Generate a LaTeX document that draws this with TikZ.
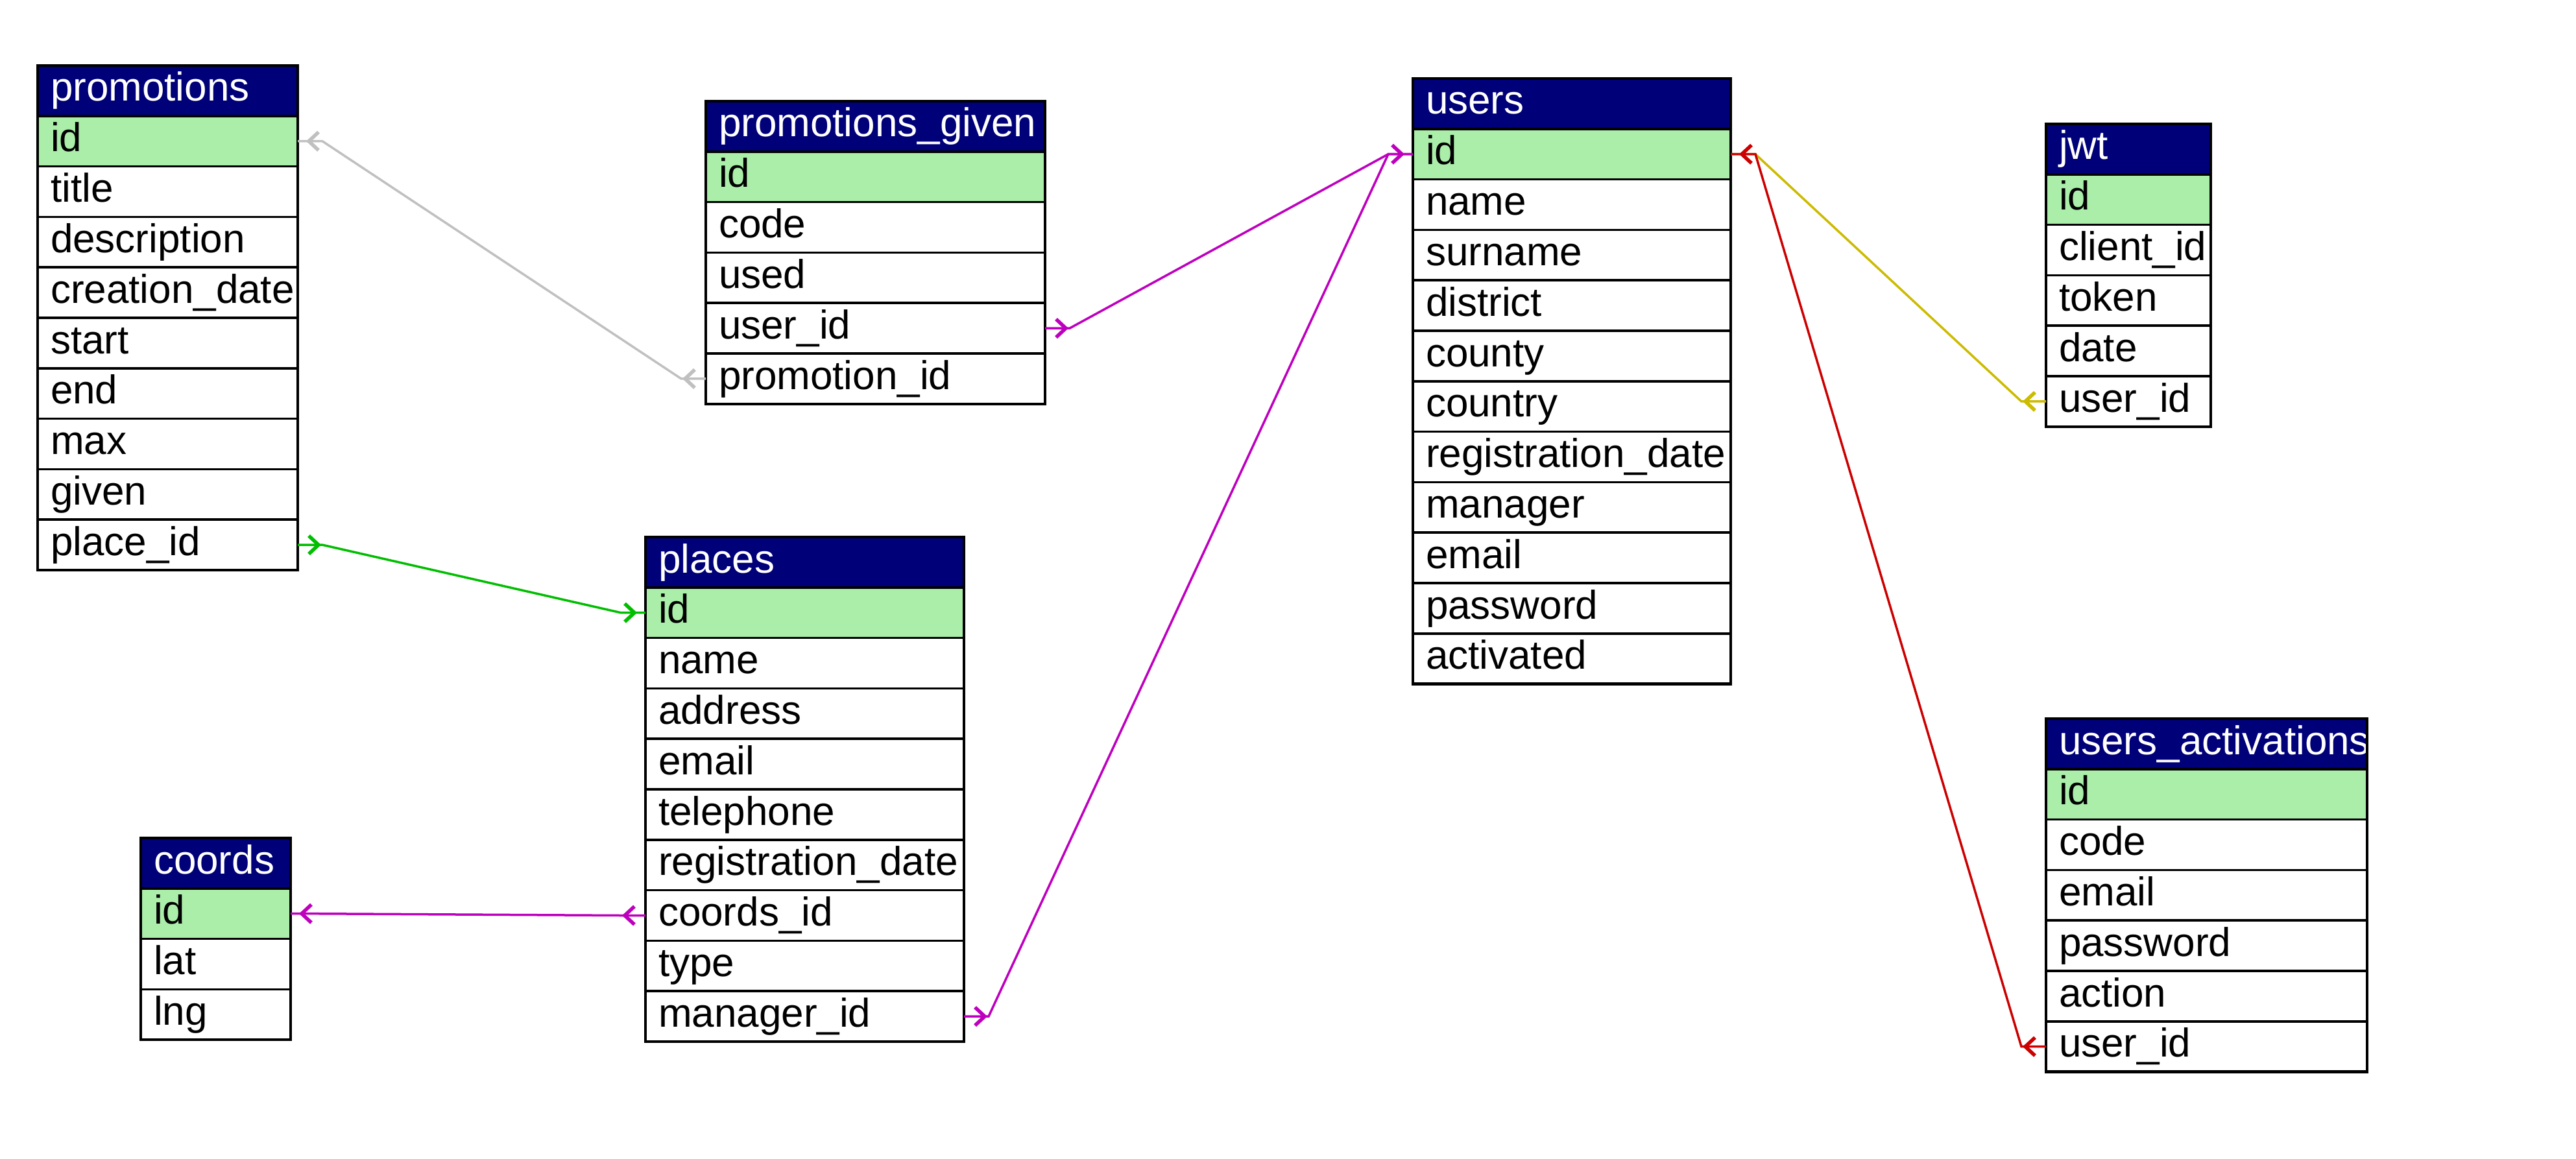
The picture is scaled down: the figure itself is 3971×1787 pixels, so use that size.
\documentclass[tikz,border=0pt]{standalone}
\usepackage{fontspec}
\setmainfont{Liberation Sans}
\usetikzlibrary{calc}
\definecolor{erNavy}{RGB}{0,0,120}
\definecolor{erGreen}{RGB}{170,238,170}
\definecolor{cGray}{RGB}{192,192,192}
\definecolor{cGreen}{RGB}{0,190,0}
\definecolor{cMag}{RGB}{190,0,190}
\definecolor{cYel}{RGB}{204,187,0}
\definecolor{cRed}{RGB}{204,0,0}
\tikzset{
  tblrow/.style={draw=black, line width=3.6pt, minimum height=77.8pt, inner sep=0pt, outer sep=0pt, anchor=north west},
  hdr/.style={tblrow, fill=erNavy},
  fld/.style={tblrow},
  ttxt/.style={anchor=base west, inner sep=0pt, outer sep=0pt, font=\fontsize{62}{70}\selectfont},
  conn/.style={line width=3.5pt},
  chev/.style={line width=5.5pt},
  chevR/.pic={\draw[chev] (-15,-14) -- (0,0) -- (-15,14);},
  chevL/.pic={\draw[chev] (15,-14) -- (0,0) -- (15,14);},
}
\newcommand{\ertable}[7]{%
  \node[hdr, minimum width=#4pt] (#1-0) at (#2,#3) {};
  \node[ttxt, text=white] (#1-t0) at ([shift={(20,55)}]#1-0.north west) {#5};
  \foreach \f [count=\i] in {#7} {
    \pgfmathsetmacro\yy{#3+77.8*\i}
    \ifnum\i=1 \def\rowfill{erGreen}\else\def\rowfill{white}\fi
    \node[fld, fill=\rowfill, minimum width=#4pt] (#1-\i) at (#2,\yy) {};
    \node[ttxt] (#1-t\i) at ([shift={(20,55)}]#1-\i.north west) {\f};
  }
  \draw[line width=4.5pt] (#1-0.north west) rectangle (#1-#6.south east);
}
\begin{document}
\begin{tikzpicture}[x=1pt,y=-1pt]
\fill[white] (0,0) rectangle (3971,1787);
\useasboundingbox (0,0) rectangle (3971,1787);

\ertable{pr}{58}{101}{401}{promotions}{9}{id,title,description,creation\_date,start,end,max,given,place\_id}
\ertable{pg}{1088}{156}{523}{promotions\_given}{5}{id,code,used,user\_id,promotion\_id}
\ertable{us}{2178}{121}{490}{users}{11}{id,name,surname,district,county,country,registration\_date,manager,email,password,activated}
\ertable{jw}{3154}{191}{254}{jwt}{5}{id,client\_id,token,date,user\_id}
\ertable{pl}{995}{828}{491}{places}{9}{id,name,address,email,telephone,registration\_date,coords\_id,type,manager\_id}
\ertable{co}{217}{1292}{231}{coords}{3}{id,lat,lng}
\ertable{ua}{3154}{1108}{495}{users\_activations}{6}{id,code,email,password,action,user\_id}

% promotions_given.promotion_id -> promotions.id
\draw[conn, cGray] (pg-5.west) -- ++(-38,0) -- ([xshift=38pt]pr-1.east) -- (pr-1.east);
\pic[color=cGray] at ([xshift=-32pt]pg-5.west) {chevL};
\pic[color=cGray] at ([xshift=17pt]pr-1.east) {chevL};

% promotions.place_id -> places.id
\draw[conn, cGreen] (pr-9.east) -- ++(38,0) -- ([xshift=-38pt]pl-1.west) -- (pl-1.west);
\pic[color=cGreen] at ([xshift=32pt]pr-9.east) {chevR};
\pic[color=cGreen] at ([xshift=-17pt]pl-1.west) {chevR};

% promotions_given.user_id -> users.id
\draw[conn, cMag] (pg-4.east) -- ++(38,0) -- ([xshift=-38pt]us-1.west) -- (us-1.west);
\pic[color=cMag] at ([xshift=32pt]pg-4.east) {chevR};

% places.manager_id -> users.id
\draw[conn, cMag] (pl-9.east) -- ++(38,0) -- ([xshift=-38pt]us-1.west) -- (us-1.west);
\pic[color=cMag] at ([xshift=32pt]pl-9.east) {chevR};
\pic[color=cMag] at ([xshift=-17pt]us-1.west) {chevR};

% places.coords_id -> coords.id
\draw[conn, cMag] (pl-7.west) -- ++(-38,0) -- ([xshift=38pt]co-1.east) -- (co-1.east);
\pic[color=cMag] at ([xshift=-32pt]pl-7.west) {chevL};
\pic[color=cMag] at ([xshift=17pt]co-1.east) {chevL};

% jwt.user_id -> users.id
\draw[conn, cYel] (jw-5.west) -- ++(-38,0) -- ([xshift=38pt]us-1.east) -- (us-1.east);
\pic[color=cYel] at ([xshift=-32pt]jw-5.west) {chevL};

% users_activations.user_id -> users.id
\draw[conn, cRed] (ua-6.west) -- ++(-38,0) -- ([xshift=38pt]us-1.east) -- (us-1.east);
\pic[color=cRed] at ([xshift=-32pt]ua-6.west) {chevL};
\pic[color=cRed] at ([xshift=17pt]us-1.east) {chevL};
\end{tikzpicture}
\end{document}
